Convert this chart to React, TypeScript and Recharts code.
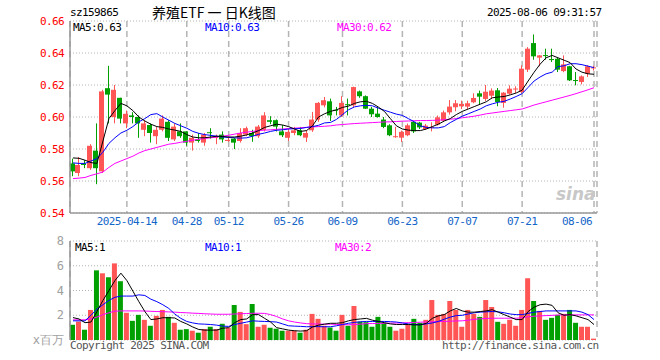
import React from 'react';
import { ComposedChart, Bar, Line, Cell, XAxis, YAxis, CartesianGrid } from 'recharts';

const dates = [
  '03-31', '04-01', '04-02', '04-03', '04-07', '04-08', '04-09', '04-10', '04-11',
  '04-14', '04-15', '04-16', '04-17', '04-18', '04-21', '04-22', '04-23', '04-24', '04-25',
  '04-28', '04-29', '04-30', '05-06', '05-07', '05-08', '05-09',
  '05-12', '05-13', '05-14', '05-15', '05-16', '05-19', '05-20', '05-21', '05-22', '05-23',
  '05-26', '05-27', '05-28', '05-29', '05-30', '06-03', '06-04', '06-05', '06-06',
  '06-09', '06-10', '06-11', '06-12', '06-13', '06-16', '06-17', '06-18', '06-19', '06-20',
  '06-23', '06-24', '06-25', '06-26', '06-27', '06-30', '07-01', '07-02', '07-03', '07-04',
  '07-07', '07-08', '07-09', '07-10', '07-11', '07-14', '07-15', '07-16', '07-17', '07-18',
  '07-21', '07-22', '07-23', '07-24', '07-25', '07-28', '07-29', '07-30', '07-31', '08-01',
  '08-04', '08-05', '08-06',
];

const labelDates = ['04-14', '04-28', '05-12', '05-26', '06-09', '06-23', '07-07', '07-21', '08-06'];

const opens = [
  0.571, 0.565, 0.571, 0.568, 0.579, 0.566, 0.618, 0.6, 0.612,
  0.596, 0.601, 0.6, 0.592, 0.595, 0.588, 0.592, 0.597, 0.586, 0.591,
  0.591, 0.584, 0.586, 0.584, 0.5905, 0.587, 0.589,
  0.585, 0.5865, 0.585, 0.589, 0.59, 0.588, 0.592, 0.598, 0.598, 0.591,
  0.587, 0.59, 0.5917, 0.5871, 0.5917, 0.5984, 0.6073, 0.6098, 0.6045,
  0.601, 0.608, 0.6073, 0.616, 0.613, 0.6052, 0.6021, 0.5984, 0.5948, 0.5876,
  0.5871, 0.5886, 0.597, 0.5965, 0.5925, 0.5932, 0.5952, 0.5977, 0.6029, 0.6061,
  0.6067, 0.6065, 0.6092, 0.6148, 0.6113, 0.6133, 0.6167, 0.6088, 0.6146, 0.6175,
  0.6156, 0.6296, 0.6462, 0.6371, 0.6387, 0.6362, 0.6364, 0.6287, 0.6317, 0.6231,
  0.6219, 0.6271, 0.6305,
];
const highs = [
  0.574, 0.575, 0.573, 0.583, 0.596, 0.617, 0.632, 0.62, 0.612,
  0.604, 0.603, 0.601, 0.598, 0.596, 0.594, 0.601, 0.598, 0.596, 0.596,
  0.591, 0.589, 0.59, 0.59, 0.593, 0.589, 0.591,
  0.588, 0.587, 0.593, 0.594, 0.592, 0.595, 0.603, 0.6005, 0.5985, 0.595,
  0.5927, 0.5938, 0.5938, 0.5917, 0.6032, 0.6094, 0.6125, 0.6115, 0.6063,
  0.613, 0.6115, 0.619, 0.6165, 0.6135, 0.6063, 0.6063, 0.6, 0.5955, 0.5938,
  0.5915, 0.5959, 0.5975, 0.597, 0.5957, 0.5967, 0.6009, 0.604, 0.6106, 0.6106,
  0.6102, 0.6102, 0.6148, 0.6165, 0.62, 0.6179, 0.6181, 0.6156, 0.6198, 0.6192,
  0.6323, 0.6437, 0.6516, 0.6387, 0.6427, 0.6427, 0.637, 0.6385, 0.632, 0.6281,
  0.626, 0.6323, 0.632,
];
const lows = [
  0.563, 0.563, 0.568, 0.567, 0.558, 0.565, 0.596, 0.596, 0.596,
  0.593, 0.596, 0.587, 0.588, 0.584, 0.583, 0.591, 0.585, 0.585, 0.587,
  0.582, 0.579, 0.584, 0.582, 0.5865, 0.583, 0.584,
  0.5845, 0.58, 0.584, 0.588, 0.5845, 0.587, 0.591, 0.5955, 0.591, 0.5875,
  0.585, 0.5886, 0.588, 0.5844, 0.5907, 0.597, 0.606, 0.5975, 0.601,
  0.6, 0.601, 0.606, 0.612, 0.605, 0.6, 0.5996, 0.593, 0.588, 0.587,
  0.5844, 0.588, 0.59, 0.5925, 0.592, 0.591, 0.5946, 0.597, 0.6015, 0.6036,
  0.605, 0.605, 0.6086, 0.6081, 0.61, 0.6113, 0.6067, 0.6058, 0.614, 0.615,
  0.615, 0.6281, 0.6358, 0.6317, 0.6358, 0.6344, 0.6281, 0.628, 0.6225, 0.6198,
  0.6204, 0.625, 0.629,
];
const closes = [
  0.566, 0.57, 0.57, 0.582, 0.568, 0.616, 0.614, 0.617, 0.599,
  0.602, 0.6, 0.596, 0.596, 0.59, 0.592, 0.599, 0.587, 0.594, 0.588,
  0.584, 0.587, 0.585, 0.589, 0.59, 0.5875, 0.586,
  0.5857, 0.584, 0.59, 0.593, 0.588, 0.594, 0.601, 0.597, 0.594, 0.5886,
  0.5907, 0.5917, 0.5886, 0.59, 0.5984, 0.6088, 0.6105, 0.601, 0.6042,
  0.6088, 0.6075, 0.6187, 0.613, 0.6052, 0.6017, 0.6, 0.5938, 0.5886, 0.588,
  0.5907, 0.5948, 0.591, 0.5935, 0.5946, 0.5938, 0.5998, 0.6029, 0.6065, 0.6086,
  0.6082, 0.6086, 0.6119, 0.6127, 0.6158, 0.6165, 0.6094, 0.6152, 0.6177, 0.6178,
  0.6302, 0.6427, 0.6379, 0.6385, 0.6383, 0.6358, 0.6296, 0.6329, 0.6229, 0.6227,
  0.6254, 0.6317, 0.631,
];

const ma5 = [
  0.5744, 0.5742, 0.573, 0.5715, 0.571, 0.585, 0.599, 0.604, 0.6085,
  0.607, 0.604, 0.6, 0.5975, 0.5955, 0.594, 0.5935, 0.5925, 0.5918, 0.591,
  0.589, 0.5875, 0.587, 0.587, 0.5875, 0.588, 0.5878,
  0.5875, 0.5875, 0.588, 0.5888, 0.59, 0.5915, 0.5935, 0.5945, 0.5955, 0.595,
  0.594, 0.5925, 0.591, 0.5915, 0.5945, 0.6, 0.602, 0.6035, 0.6045,
  0.606, 0.6068, 0.6085, 0.6095, 0.6098, 0.6085, 0.6062, 0.6035, 0.599, 0.5945,
  0.5925, 0.5918, 0.5915, 0.5915, 0.5925, 0.594, 0.5955, 0.5975, 0.599, 0.6015,
  0.6035, 0.605, 0.6065, 0.608, 0.6095, 0.612, 0.6125, 0.6128, 0.6138, 0.615,
  0.6168, 0.6225, 0.628, 0.633, 0.637, 0.6385, 0.637, 0.6355, 0.634, 0.63,
  0.628, 0.627, 0.6267,
];
const ma10 = [
  0.5713, 0.571, 0.571, 0.5725, 0.574, 0.578, 0.5835, 0.587, 0.59,
  0.5917, 0.594, 0.597, 0.599, 0.6015, 0.6021, 0.6, 0.598, 0.596, 0.5945,
  0.593, 0.591, 0.5898, 0.589, 0.5885, 0.588, 0.5875,
  0.5872, 0.587, 0.5868, 0.587, 0.588, 0.5892, 0.59, 0.591, 0.5917, 0.592,
  0.5925, 0.5927, 0.5928, 0.5935, 0.594, 0.5948, 0.5963, 0.5966, 0.5985,
  0.6015, 0.6045, 0.6063, 0.607, 0.6073, 0.607, 0.6055, 0.6042, 0.603, 0.6018,
  0.601, 0.599, 0.597, 0.5945, 0.5935, 0.5932, 0.5932, 0.594, 0.5965, 0.5985,
  0.6005, 0.602, 0.6035, 0.605, 0.607, 0.6082, 0.6092, 0.6098, 0.6112, 0.6128,
  0.6146, 0.6185, 0.6225, 0.625, 0.627, 0.628, 0.6315, 0.632, 0.6333, 0.6333,
  0.6327, 0.6318, 0.6308,
];
const ma30 = [
  0.5615, 0.5618, 0.5622, 0.5635, 0.5645, 0.5656, 0.5685, 0.571, 0.5725,
  0.574, 0.5755, 0.5775, 0.579, 0.58, 0.581, 0.582, 0.583, 0.5835, 0.5842,
  0.5848, 0.5855, 0.586, 0.5866, 0.587, 0.5875, 0.588,
  0.5886, 0.5893, 0.59, 0.5905, 0.591, 0.5915, 0.5918, 0.592, 0.5923, 0.5925,
  0.5928, 0.593, 0.5933, 0.5935, 0.5938, 0.594, 0.5942, 0.5945, 0.595,
  0.5953, 0.5956, 0.5959, 0.5961, 0.5963, 0.5965, 0.5967, 0.5969, 0.597, 0.5972,
  0.5974, 0.5975, 0.5977, 0.5978, 0.5978, 0.5979, 0.598, 0.5983, 0.5986, 0.599,
  0.5995, 0.6, 0.6005, 0.6012, 0.602, 0.6025, 0.603, 0.6035, 0.604, 0.6045,
  0.605, 0.6062, 0.6075, 0.6085, 0.6095, 0.6105, 0.6115, 0.6125, 0.6135, 0.6146,
  0.6158, 0.617, 0.6183,
];

// volume in millions
const volumes = [
  1.23, 1.49, 0.83, 2.43, 5.63, 5.39, 5.07, 6.19, 4.75,
  2.21, 1.55, 2.03, 1.63, 1.15, 1.95, 2.43, 1.87, 1.39, 0.83,
  0.88, 0.75, 0.59, 0.88, 1.07, 0.88, 1.31,
  0.99, 2.83, 2.27, 1.28, 2.91, 1.07, 1.23, 0.99, 0.91, 0.75,
  0.75, 0.75, 0.59, 0.83, 2.11, 1.71, 1.15, 1.01, 0.75,
  2.03, 1.15, 2.75, 1.49, 1.44, 1.07, 1.87, 1.39, 1.07, 0.75,
  0.91, 1.23, 1.71, 1.39, 1.63, 3.23, 2.03, 2.11, 3.15, 2.43,
  1.07, 2.43, 2.11, 1.87, 3.23, 2.67, 1.47, 1.31, 1.63, 1.15,
  2.43, 4.99, 3.15, 2.35, 1.63, 1.79, 2.03, 2.11, 2.43, 1.39,
  1.07, 1.07, 0.11,
];
const volMa5 = [
  1.81, 1.7, 1.4, 1.45, 2.3, 3.2, 4.0, 4.8, 5.4,
  4.8, 3.95, 3.1, 2.3, 1.65, 1.7, 1.8, 1.8, 1.78, 1.5,
  1.3, 1.05, 0.85, 0.8, 0.8, 0.8, 0.95,
  1.0, 1.4, 1.65, 1.7, 2.05, 2.05, 1.75, 1.45, 1.0, 0.9,
  0.8, 0.75, 0.72, 0.75, 1.05, 1.2, 1.28, 1.35, 1.35,
  1.4, 1.55, 1.65, 1.7, 1.75, 1.6, 1.5, 1.4, 1.3, 1.25,
  1.25, 1.25, 1.22, 1.22, 1.35, 1.75, 1.95, 2.05, 2.35, 2.55,
  2.35, 2.25, 2.25, 2.3, 2.35, 2.45, 2.25, 2.05, 1.85, 1.65,
  1.65, 2.3, 2.65, 2.85, 2.9, 2.8, 2.2, 2.0, 2.05, 1.95,
  1.8, 1.65, 1.25,
];
const volMa10 = [
  1.55, 1.55, 1.55, 2.0, 2.5, 2.85, 3.2, 3.45, 3.55,
  3.55, 3.55, 3.65, 3.6, 3.3, 3.1, 2.85, 2.55, 2.1, 1.75,
  1.5, 1.38, 1.3, 1.28, 1.25, 1.2, 1.12,
  1.1, 1.25, 1.35, 1.45, 1.55, 1.52, 1.5, 1.48, 1.45, 1.3,
  1.15, 1.12, 1.1, 1.07, 1.08, 1.08, 1.07, 1.07, 1.15,
  1.25, 1.35, 1.42, 1.47, 1.5, 1.5, 1.5, 1.5, 1.48, 1.45,
  1.38, 1.3, 1.25, 1.25, 1.3, 1.38, 1.5, 1.68, 1.85, 1.97,
  2.0, 2.1, 2.2, 2.25, 2.28, 2.3, 2.28, 2.2, 2.1, 2.05,
  2.05, 2.15, 2.25, 2.3, 2.35, 2.35, 2.35, 2.35, 2.35, 2.35,
  2.25, 2.05, 1.65,
];
const volMa30 = [
  1.63, 1.63, 1.63, 1.7, 1.85, 2.05, 2.2, 2.33, 2.35,
  2.35, 2.35, 2.35, 2.34, 2.32, 2.3, 2.29, 2.27, 2.25, 2.22,
  2.2, 2.17, 2.15, 2.12, 2.1, 2.08, 2.08,
  2.08, 2.1, 2.12, 2.14, 2.16, 2.16, 2.15, 2.05, 1.9, 1.7,
  1.55, 1.45, 1.38, 1.32, 1.3, 1.29, 1.28, 1.28, 1.26,
  1.24, 1.23, 1.25, 1.28, 1.32, 1.33, 1.34, 1.35, 1.36, 1.37,
  1.38, 1.4, 1.42, 1.44, 1.46, 1.47, 1.49, 1.5, 1.52, 1.54,
  1.55, 1.6, 1.67, 1.71, 1.74, 1.76, 1.76, 1.76, 1.76, 1.76,
  1.8, 1.88, 1.92, 1.95, 1.97, 1.99, 2.02, 2.03, 2.03, 2.03,
  2.03, 2.03, 2.03,
];

const priceTicks = [0.54, 0.56, 0.58, 0.6, 0.62, 0.64, 0.66];
const volTicks = [0, 2, 4, 6, 8];

const UP = '#ff5555';
const DOWN = '#00a000';
const BORDER = '#999999';
const GRID = '#b4b4b4';
const mono = '"DejaVu Sans Mono", "Liberation Mono", monospace';

const rows = dates.map((date, i) => ({
  date,
  open: opens[i],
  high: highs[i],
  low: lows[i],
  close: closes[i],
  ma5: ma5[i],
  ma10: ma10[i],
  ma30: ma30[i],
  vol: volumes[i],
  vma5: volMa5[i],
  vma10: volMa10[i],
  vma30: volMa30[i],
}));

const Candle = (props: any) => {
  const { x, y, width, height, payload } = props;
  const { open, close, high, low } = payload;
  const top = Math.min(y, y + height);
  const h = Math.abs(height);
  const py = (p: number) => top + ((high - p) / (high - low)) * h;
  const color = close >= open ? UP : DOWN;
  const cx = Math.floor(x + width / 2) + 0.5;
  const bTop = py(Math.max(open, close));
  const bBot = py(Math.min(open, close));
  return (
    <g>
      <line x1={cx} x2={cx} y1={top} y2={top + h} stroke={color} strokeWidth={1} />
      <rect x={Math.floor(x)} y={bTop} width={width} height={Math.max(1, bBot - bTop)} fill={color} />
    </g>
  );
};

const DateTick = (props: any) => {
  const { x, payload } = props;
  const v = payload.value as string;
  const last = v === labelDates[labelDates.length - 1];
  const first = v === labelDates[0];
  return (
    <text
      x={last ? x - 2 : x}
      y={225}
      textAnchor={last ? 'end' : 'middle'}
      fill="#1466c8"
      fontSize={11}
      fontFamily={mono}
      style={{ letterSpacing: '-0.6px' }}
    >
      {first ? '2025-' + v : v}
    </text>
  );
};

const VolTick = (props: any) => {
  const { x, y, payload } = props;
  const v = payload.value as number;
  return (
    <text x={x} y={y} dy={4} textAnchor="end" fill="#a0a0a0" fontSize={12} fontFamily={mono}>
      {v === 0 ? 'x百万' : String(v)}
    </text>
  );
};

const Label = ({ left, top, color, children, size = 11, family = mono }: any) => (
  <div
    style={{
      position: 'absolute',
      left,
      top,
      zIndex: 5,
      color,
      fontSize: size,
      fontFamily: family,
      letterSpacing: family === mono ? '-0.6px' : undefined,
      lineHeight: '12px',
      whiteSpace: 'nowrap',
    }}
  >
    {children}
  </div>
);

const axisLine = { stroke: BORDER, strokeWidth: 1.5 };

export default function App() {
  return (
    <div style={{ position: 'absolute', left: 0, top: 0, width: 660, height: 360, background: '#fff', overflow: 'hidden' }}>
      <div style={{ position: 'absolute', left: 0, top: 0, width: 660, height: 232 }}>
        <ComposedChart width={660} height={232} data={rows} margin={{ top: 21, right: 63, bottom: 0, left: 0 }}>
          <CartesianGrid vertical={false} stroke={GRID} strokeDasharray="1 2" />
          <CartesianGrid horizontal={false} stroke={GRID} strokeDasharray="6 4" strokeWidth={1.5} />
          <XAxis dataKey="date" ticks={labelDates} interval={0} tickLine={false} axisLine={axisLine} tick={<DateTick />} height={19} />
          <XAxis xAxisId="top" orientation="top" dataKey="date" height={0} tick={false} tickLine={false} axisLine={axisLine} />
          <YAxis
            domain={[0.54, 0.66]}
            ticks={priceTicks}
            interval={0}
            allowDataOverflow
            width={70}
            tickSize={0}
            tickMargin={6}
            axisLine={axisLine}
            tickFormatter={(v: number) => v.toFixed(2)}
            tick={{ fill: '#ff0000', fontSize: 11, fontFamily: mono, style: { letterSpacing: '-0.6px' } }}
          />
          <YAxis yAxisId="r" orientation="right" width={0} domain={[0, 1]} tick={false} tickLine={false} axisLine={axisLine} />
          <Bar dataKey={(d: any) => [d.low, d.high]} barSize={5} shape={<Candle />} isAnimationActive={false} />
          <Line dataKey="ma30" stroke="#ff00ff" strokeWidth={1} dot={false} isAnimationActive={false} />
          <Line dataKey="ma10" stroke="#0000ff" strokeWidth={1} dot={false} isAnimationActive={false} />
          <Line dataKey="ma5" stroke="#000000" strokeWidth={1} dot={false} isAnimationActive={false} />
        </ComposedChart>
      </div>

      <div style={{ position: 'absolute', left: 0, top: 228, width: 660, height: 132 }}>
        <ComposedChart width={660} height={132} data={rows} margin={{ top: 13, right: 63, bottom: 20, left: 0 }}>
          <CartesianGrid vertical={false} stroke={GRID} strokeDasharray="1 2" />
          <CartesianGrid horizontal={false} stroke={GRID} strokeDasharray="6 4" strokeWidth={1.5} />
          <XAxis dataKey="date" ticks={labelDates} interval={0} tickLine={false} axisLine={axisLine} tick={false} height={0} />
          <XAxis xAxisId="top" orientation="top" dataKey="date" height={0} tick={false} tickLine={false} axisLine={axisLine} />
          <YAxis
            type="number"
            domain={[0, 8]}
            ticks={volTicks}
            interval={0}
            allowDataOverflow
            width={70}
            tickSize={0}
            tickMargin={6}
            axisLine={axisLine}
            tick={<VolTick />}
          />
          <YAxis yAxisId="r" orientation="right" width={0} domain={[0, 1]} tick={false} tickLine={false} axisLine={axisLine} />
          <Bar dataKey="vol" barSize={5} isAnimationActive={false}>
            {rows.map((r, i) => (
              <Cell key={i} fill={r.close >= r.open ? UP : DOWN} />
            ))}
          </Bar>
          <Line dataKey="vma30" stroke="#ff00ff" strokeWidth={1} dot={false} isAnimationActive={false} />
          <Line dataKey="vma10" stroke="#0000ff" strokeWidth={1} dot={false} isAnimationActive={false} />
          <Line dataKey="vma5" stroke="#000000" strokeWidth={1} dot={false} isAnimationActive={false} />
        </ComposedChart>
      </div>

      <Label left={70} top={7} color="#000">sz159865</Label>
      <Label left={152} top={6} color="#000" size={14} family='"Noto Sans CJK SC", sans-serif'>养殖ETF 一 日K线图</Label>
      <Label left={487} top={7} color="#000">2025-08-06 09:31:57</Label>

      <Label left={73} top={22} color="#000">MA5:0.63</Label>
      <Label left={205} top={22} color="#0000ff">MA10:0.63</Label>
      <Label left={337} top={22} color="#ff00ff">MA30:0.62</Label>

      <div
        style={{
          position: 'absolute',
          left: 556,
          top: 184,
          color: '#c8c8c8',
          fontSize: 17,
          fontWeight: 'bold',
          fontStyle: 'italic',
          fontFamily: '"DejaVu Sans", sans-serif',
        }}
      >
        sina
      </div>

      <Label left={75} top={242} color="#000">MA5:1</Label>
      <Label left={205} top={242} color="#0000ff">MA10:1</Label>
      <Label left={335} top={242} color="#ff00ff">MA30:2</Label>

      <Label left={70} top={340} color="#555">Copyright 2025 SINA.COM</Label>
      <Label left={442} top={340} color="#555">http://finance.sina.com.cn</Label>
    </div>
  );
}
